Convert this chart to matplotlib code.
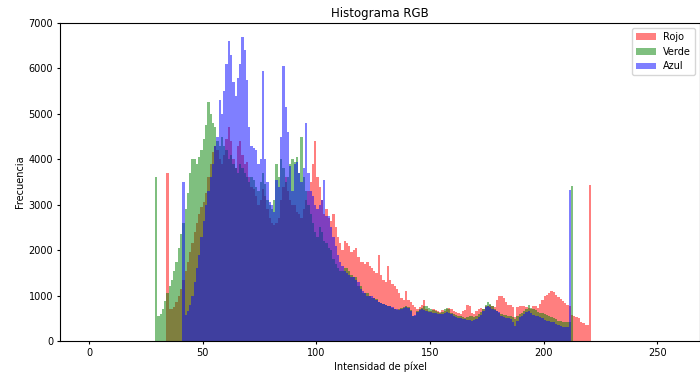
import numpy as np
import matplotlib
matplotlib.use("Agg")
import matplotlib.pyplot as plt

# conteos por intensidad (primer bin, valores consecutivos)
rojo_inicio = 34
rojo = [3700, 700, 700, 750, 850, 1000, 1150, 1350, 1550, 1750, 1950, 2150, 2400, 2600, 2800, 2950,
        3050, 3250, 3600, 3900, 4150, 4300, 4200, 4000, 3900, 4100, 4450, 4700, 4400, 4000, 3800, 4300,
        4400, 4100, 3900, 3950, 3600, 3400, 3350, 3200, 3000, 3100, 3350, 3200, 2900, 2700, 2600, 2550,
        2600, 2700, 3100, 3400, 3600, 3300, 3100, 3000, 3000, 2850, 2800, 2700, 2900, 3100, 3300, 3500,
        3900, 4400, 3600, 3400, 3100, 2800, 2900, 2700, 2650, 2800, 2500, 2300, 2150, 2000, 2200, 2150,
        2100, 1950, 2000, 2050, 1850, 1750, 1750, 1700, 1750, 1650, 1600, 1550, 1500, 1900, 1450, 1350,
        1300, 1650, 1350, 1250, 1200, 1150, 1050, 950, 900, 1100, 900, 850, 800, 750, 700, 750,
        800, 900, 700, 650, 650, 700, 680, 650, 630, 680, 650, 700, 720, 700, 650, 640,
        620, 600, 650, 680, 800, 780, 620, 600, 650, 700, 720, 700, 780, 780, 800, 760,
        740, 900, 1000, 1000, 950, 850, 800, 800, 750, 530, 750, 770, 780, 760, 740, 720,
        700, 760, 780, 720, 820, 900, 980, 1010, 1050, 1100, 1080, 1020, 970, 920, 880, 840,
        800, 780, 570, 560, 530, 500, 420, 400, 350, 350, 3430]

verde_inicio = 29
verde = [3600, 560, 600, 700, 880, 1050, 1200, 1350, 1550, 1750, 2050, 2350, 2600, 2900, 3250, 3700,
         4000, 4000, 3900, 4050, 4200, 4450, 4750, 5270, 5000, 4800, 4700, 4400, 4300, 4500, 4300, 4200,
         4000, 4100, 3900, 3800, 3700, 3900, 3800, 3700, 3600, 3500, 3600, 3550, 3400, 3300, 3500, 3700,
         3450, 3100, 3000, 2900, 3100, 3900, 3600, 4000, 3800, 3500, 3600, 3900, 4000, 3950, 4050, 3700,
         4500, 3600, 3300, 3000, 2800, 2600, 2400, 2300, 2500, 2400, 2200, 2150, 2050, 2000, 1800, 1700,
         1600, 1550, 1550, 1600, 1600, 1550, 1450, 1400, 1400, 1200, 1200, 1050, 1050, 1050, 1000, 950,
         950, 920, 850, 830, 820, 800, 780, 760, 720, 700, 680, 700, 720, 740, 760, 750,
         680, 560, 560, 660, 700, 720, 760, 780, 720, 700, 680, 650, 640, 620, 640, 700,
         730, 700, 620, 600, 580, 560, 540, 520, 500, 520, 560, 540, 520, 560, 600, 640,
         700, 800, 860, 820, 760, 700, 660, 620, 600, 580, 570, 560, 540, 520, 480, 560,
         600, 620, 650, 700, 790, 720, 700, 680, 640, 620, 610, 600, 570, 540, 530, 500,
         480, 450, 430, 420, 420, 420, 420, 3410]

azul_inicio = 41
azul = [3500, 570, 650, 800, 1000, 1300, 1600, 1900, 2300, 2650, 3000, 3300, 3600, 3900, 4300, 4500,
        5300, 5000, 5500, 6100, 6600, 6300, 5700, 5400, 5800, 6100, 6700, 6400, 5750, 4700, 4300, 4250,
        4200, 3900, 4000, 5950, 4000, 3500, 3050, 3000, 2850, 3550, 3400, 4500, 6050, 5150, 4600, 3850,
        3300, 3900, 3950, 3700, 3500, 3800, 4800, 3700, 3300, 3200, 3000, 2900, 3000, 3100, 3550, 2750,
        2750, 2500, 2300, 2100, 1900, 1750, 1650, 1550, 1500, 1450, 1400, 1400, 1350, 1300, 1150, 1100,
        1050, 1000, 1000, 980, 950, 900, 850, 840, 820, 800, 780, 760, 740, 700, 700, 680,
        700, 720, 740, 720, 650, 560, 570, 640, 680, 700, 680, 650, 640, 630, 620, 610,
        600, 590, 600, 620, 640, 620, 600, 560, 520, 500, 500, 490, 480, 470, 460, 450,
        460, 480, 520, 580, 650, 750, 780, 740, 700, 680, 660, 640, 560, 520, 500, 500,
        480, 420, 320, 450, 520, 560, 600, 640, 650, 620, 580, 560, 540, 520, 500, 460,
        440, 430, 420, 410, 380, 350, 330, 310, 300, 300, 3320]


def completar(inicio, valores):
    h = np.zeros(256)
    h[inicio:inicio + len(valores)] = valores
    return h


bins = np.arange(257)
canales = [("red", "Rojo", completar(rojo_inicio, rojo)),
           ("green", "Verde", completar(verde_inicio, verde)),
           ("blue", "Azul", completar(azul_inicio, azul))]

fig, ax = plt.subplots(figsize=(7, 3.76), dpi=100)
fig.subplots_adjust(left=60 / 700, right=1.0, top=1 - 23 / 376, bottom=1 - 341 / 376)

for color, nombre, h in canales:
    ax.hist(bins[:-1], bins=bins, weights=h, color=color, alpha=0.5, label=nombre)

ax.set_title("Histograma RGB", fontsize=8.5, pad=4.2)
ax.set_xlabel("Intensidad de píxel", fontsize=7, labelpad=2.8)
ax.set_ylabel("Frecuencia", fontsize=7, labelpad=2.8)
ax.tick_params(labelsize=7, length=2.5, pad=2.5)
ax.set_ylim(0, 7000)
ax.legend(fontsize=7)

plt.savefig("out.png")
